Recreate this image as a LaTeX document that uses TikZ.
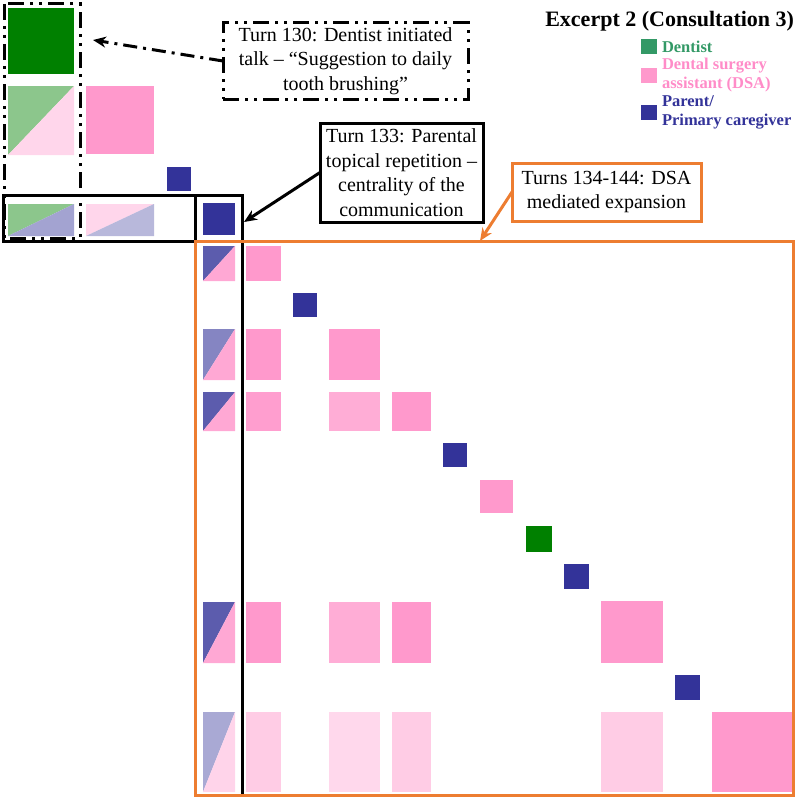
\documentclass[tikz,border=0pt]{standalone}
\usepackage{fontspec}
\setmainfont{Liberation Serif}
\usetikzlibrary{arrows.meta}
\definecolor{dentgreen}{RGB}{0,128,0}
\definecolor{keygreen}{RGB}{51,153,102}
\definecolor{dsapink}{RGB}{255,153,204}
\definecolor{keypink}{RGB}{255,140,200}
\definecolor{parblue}{RGB}{51,51,153}
\definecolor{boxorange}{RGB}{237,125,49}
\begin{document}
\begin{tikzpicture}[x=1pt,y=-1pt,inner sep=0pt,outer sep=0pt,
dashdotdot/.style={dash pattern=on 16pt off 6pt on 3pt off 6pt on 3pt off 6pt},
callout/.style={draw,rectangle,line width=3pt,align=center,font=\fontsize{20}{24.5}\selectfont},
keytext/.style={anchor=west,align=left,font=\fontsize{16.5}{18.5}\selectfont\bfseries},
pointer/.style={-{Stealth[length=13pt,width=11pt]},line width=3pt}]
\useasboundingbox (0,0) rectangle (800,800);
% turns on the diagonal
\foreach \a/\b/\c in {8/74/dentgreen,86/154/dsapink,167/191/parblue,203/235/parblue,
  246/281/dsapink,293/317/parblue,329/380/dsapink,392/431/dsapink,443/467/parblue,
  480/513/dsapink,526/552/dentgreen,564/589/parblue,601/663/dsapink,675/700/parblue,712/792/dsapink}
  \fill[\c] (\a,\a) rectangle (\b,\b);
% repeated turns
\foreach \xa/\xb/\ya/\yb/\c in {246/281/329/380/dsapink,246/281/392/431/dsapink!95,
  329/380/392/431/dsapink!80,246/281/602/663/dsapink,329/380/602/663/dsapink!80,
  392/431/602/663/dsapink,246/281/712/792/dsapink!50,329/380/712/792/dsapink!38,
  392/431/712/792/dsapink!50,601/663/712/792/dsapink!50}
  \fill[\c] (\xa,\ya) rectangle (\xb,\yb);
% shared turns
\foreach \xa/\xb/\ya/\yb/\ca/\cb in {8/74/86/155/dentgreen!45/dsapink!40,
  8/74/204/236/dentgreen!45/parblue!45,86/154/204/236/dsapink!40/parblue!35,
  203/235/246/281/parblue!80/dsapink!85,203/235/329/380/parblue!60/dsapink!85,
  203/235/392/431/parblue!80/dsapink!85,203/235/602/663/parblue!80/dsapink!85,
  203/235/712/792/parblue!42/dsapink!42}{
  \fill[\ca] (\xa,\ya) -- (\xb,\ya) -- (\xa,\yb) -- cycle;
  \fill[\cb] (\xb,\ya) -- (\xb,\yb) -- (\xa,\yb) -- cycle;}
% frames
\draw[line width=3pt,dashdotdot] (4,4) rectangle (80,238);
\draw[line width=3pt] (3,195) rectangle (195,241);
\draw[line width=3pt] (195,195) rectangle (242,795);
\draw (494,518) node[draw=boxorange,line width=3pt,minimum width=598,minimum height=554] (expansion) {};
% callouts
\draw (345.5,61) node[callout,dashdotdot,minimum width=245,minimum height=76] (t130)
  {Turn 130: Dentist initiated\\talk -- “Suggestion to daily\\tooth brushing”};
\draw (401.5,172.5) node[callout,minimum width=163,minimum height=99] (t133)
  {Turn 133: Parental\\topical repetition --\\centrality of the\\communication};
\draw (606.5,192) node[callout,draw=boxorange,minimum width=189,minimum height=58] (t134)
  {Turns 134-144: DSA\\mediated expansion};
\coordinate (c130) at (93,40);
\coordinate (c133) at (244,222);
\coordinate (c134) at (480,241);
\draw[pointer,dash pattern=on 14pt off 6pt on 3pt off 6pt] (t130.west) -- (c130);
\draw[pointer] (t133.west) -- (c133);
\draw[pointer,boxorange] (t134.west) -- (c134);
% key
\draw (794,21) node[anchor=east,font=\fontsize{22}{26}\selectfont\bfseries] (title) {Excerpt 2 (Consultation 3)};
\fill[keygreen] (641,39) rectangle (657,54);
\fill[dsapink] (641,68) rectangle (657,83);
\fill[parblue] (641,105) rectangle (657,120);
\draw (662,47) node[keytext,text=keygreen] (kdent) {Dentist};
\draw (662,75) node[keytext,text=keypink] (kdsa) {Dental surgery\\assistant (DSA)};
\draw (662,112.5) node[keytext,text=parblue] (kpar) {Parent/\\Primary caregiver};
\end{tikzpicture}
\end{document}
